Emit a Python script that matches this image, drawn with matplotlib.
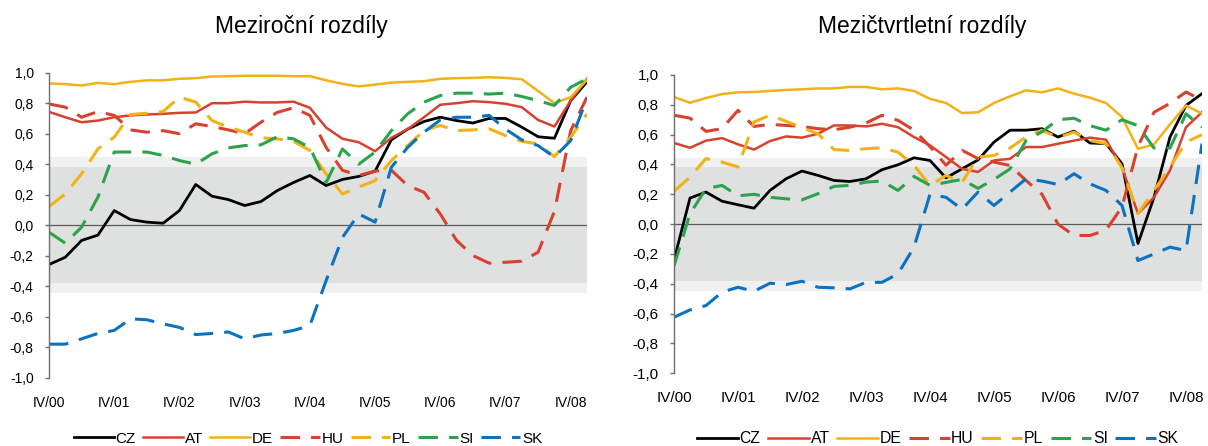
import matplotlib
matplotlib.use("Agg")
import matplotlib.pyplot as plt
import numpy as np
from matplotlib.ticker import FuncFormatter

plt.rcParams["font.family"] = ["Liberation Sans", "DejaVu Sans"]
plt.rcParams["lines.scale_dashes"] = False

QUARTERS = [f"{q}/{y:02d}" for y in range(0, 9) for q in ["I", "II", "III", "IV"]][3:] + ["I/09"]
TICK_LABELS = [f"IV/{y:02d}" for y in range(0, 9)]

COUNTRIES = ["CZ", "AT", "DE", "HU", "PL", "SI", "SK"]

# year-on-year correlations (left panel)
yoy_cz = [-0.258, -0.21, -0.10, -0.065, 0.096, 0.037, 0.02, 0.013, 0.096, 0.267, 0.19, 0.168,
          0.129, 0.155, 0.227, 0.28, 0.326, 0.26, 0.30, 0.32, 0.354, 0.56, 0.63, 0.68, 0.708,
          0.686, 0.67, 0.70, 0.70, 0.643, 0.58, 0.57, 0.817, 0.94]
yoy_at = [0.743, 0.708, 0.675, 0.686, 0.708, 0.72, 0.726, 0.73, 0.737, 0.739, 0.80, 0.80, 0.81,
          0.805, 0.805, 0.81, 0.77, 0.64, 0.567, 0.544, 0.485, 0.573, 0.63, 0.708, 0.79, 0.80,
          0.813, 0.807, 0.796, 0.774, 0.69, 0.647, 0.817, 0.96]
yoy_de = [0.93, 0.925, 0.916, 0.933, 0.925, 0.94, 0.95, 0.95, 0.96, 0.964, 0.975, 0.977, 0.98,
          0.98, 0.98, 0.977, 0.977, 0.95, 0.927, 0.91, 0.922, 0.935, 0.94, 0.944, 0.96, 0.964,
          0.966, 0.97, 0.966, 0.957, 0.88, 0.80, 0.84, 0.953]
yoy_hu = [0.795, 0.774, 0.708, 0.745, 0.72, 0.625, 0.61, 0.62, 0.60, 0.665, 0.647, 0.625, 0.60,
          0.675, 0.74, 0.77, 0.72, 0.51, 0.36, 0.326, 0.355, 0.36, 0.26, 0.216, 0.074, -0.10,
          -0.199, -0.249, -0.243, -0.236, -0.177, 0.09, 0.62, 0.84]
yoy_pl = [0.122, 0.205, 0.337, 0.50, 0.577, 0.726, 0.734, 0.745, 0.84, 0.807, 0.686, 0.643, 0.61,
          0.573, 0.566, 0.55, 0.49, 0.337, 0.205, 0.25, 0.293, 0.424, 0.522, 0.62, 0.654, 0.62,
          0.625, 0.632, 0.588, 0.55, 0.533, 0.45, 0.577, 0.73]
yoy_si = [-0.046, -0.118, -0.013, 0.184, 0.48, 0.48, 0.48, 0.457, 0.424, 0.40, 0.468, 0.507,
          0.522, 0.527, 0.58, 0.566, 0.51, 0.28, 0.50, 0.40, 0.48, 0.62, 0.73, 0.807, 0.85, 0.866,
          0.866, 0.86, 0.866, 0.844, 0.817, 0.785, 0.905, 0.96]
yoy_sk = [-0.78, -0.78, -0.745, -0.71, -0.69, -0.614, -0.62, -0.647, -0.67, -0.717, -0.71, -0.70,
          -0.745, -0.72, -0.71, -0.69, -0.658, -0.363, -0.08, 0.074, 0.02, 0.38, 0.51, 0.61, 0.69,
          0.708, 0.708, 0.72, 0.63, 0.56, 0.522, 0.446, 0.555, 0.83]

# quarter-on-quarter correlations (right panel)
qoq_cz = [-0.24, 0.175, 0.215, 0.154, 0.13, 0.107, 0.226, 0.304, 0.356, 0.327, 0.293, 0.286,
          0.304, 0.365, 0.398, 0.445, 0.427, 0.31, 0.371, 0.43, 0.55, 0.63, 0.63, 0.64, 0.584,
          0.624, 0.544, 0.54, 0.405, -0.13, 0.18, 0.584, 0.796, 0.875]
qoq_at = [0.544, 0.512, 0.56, 0.577, 0.535, 0.50, 0.557, 0.588, 0.58, 0.606, 0.662, 0.662, 0.655,
          0.673, 0.65, 0.584, 0.528, 0.45, 0.371, 0.35, 0.427, 0.438, 0.517, 0.517, 0.539, 0.56,
          0.58, 0.566, 0.38, 0.07, 0.18, 0.36, 0.65, 0.75]
qoq_de = [0.852, 0.814, 0.846, 0.872, 0.884, 0.886, 0.893, 0.90, 0.904, 0.91, 0.91, 0.92, 0.92,
          0.904, 0.91, 0.893, 0.84, 0.812, 0.745, 0.75, 0.812, 0.857, 0.897, 0.884, 0.91, 0.875,
          0.848, 0.812, 0.718, 0.505, 0.535, 0.669, 0.796, 0.74]
qoq_hu = [0.73, 0.711, 0.622, 0.64, 0.763, 0.655, 0.669, 0.662, 0.655, 0.64, 0.633, 0.65, 0.678,
          0.73, 0.696, 0.63, 0.52, 0.395, 0.495, 0.44, 0.416, 0.393, 0.293, 0.20, 0.0, -0.076,
          -0.076, -0.04, 0.115, 0.52, 0.75, 0.81, 0.886, 0.83]
qoq_pl = [0.22, 0.315, 0.44, 0.416, 0.383, 0.685, 0.73, 0.69, 0.647, 0.606, 0.50, 0.494, 0.506,
          0.512, 0.483, 0.394, 0.26, 0.327, 0.28, 0.45, 0.46, 0.51, 0.584, 0.63, 0.58, 0.617,
          0.56, 0.54, 0.38, 0.07, 0.226, 0.383, 0.55, 0.60]
qoq_si = [-0.28, 0.07, 0.237, 0.26, 0.19, 0.2, 0.18, 0.17, 0.163, 0.204, 0.253, 0.26, 0.282,
          0.289, 0.226, 0.32, 0.26, 0.28, 0.30, 0.24, 0.30, 0.37, 0.56, 0.62, 0.70, 0.71, 0.66,
          0.63, 0.70, 0.66, 0.51, 0.51, 0.74, 0.65]
qoq_sk = [-0.624, -0.575, -0.546, -0.456, -0.423, -0.45, -0.396, -0.405, -0.383, -0.423, -0.427,
          -0.434, -0.39, -0.39, -0.333, -0.154, 0.20, 0.18, 0.10, 0.215, 0.125, 0.215, 0.304,
          0.289, 0.266, 0.338, 0.27, 0.226, 0.125, -0.244, -0.20, -0.154, -0.177, 0.54]

BAND_OUTER = 0.445
BAND_INNER = 0.38

STYLES = {
    "CZ": {"color": "#000000", "ls": "-", "lw": 2.0},
    "AT": {"color": "#D9412F", "ls": "-", "lw": 1.8},
    "DE": {"color": "#F2B215", "ls": "-", "lw": 1.8},
    "HU": {"color": "#D9412F", "ls": (0, (14, 8)), "lw": 2.2},
    "PL": {"color": "#F2B215", "ls": (0, (14, 8)), "lw": 2.2},
    "SI": {"color": "#2CA24C", "ls": (0, (14, 8)), "lw": 2.2},
    "SK": {"color": "#0B72C2", "ls": (0, (14, 8)), "lw": 2.2},
}


def draw_panel(fig, rect, series, title, title_xy, fs, leg_fs, legend_xy):
    ax = fig.add_axes(rect)
    x = np.arange(len(QUARTERS))
    ax.axhspan(-BAND_OUTER, BAND_OUTER, color="#F0F0F0", lw=0, zorder=0)
    ax.axhspan(-BAND_INNER, BAND_INNER, color="#DFE0E0", lw=0, zorder=0)
    ax.axhline(0, color="#5A5A5A", lw=0.9, zorder=1)

    for name, vals in zip(COUNTRIES, series):
        sty = STYLES[name]
        ax.plot(x, vals, color=sty["color"], linestyle=sty["ls"], lw=sty["lw"],
                label=name, zorder=2, solid_joinstyle="round")

    ax.set_xlim(0, len(QUARTERS) - 1)
    ax.set_ylim(-1.0, 1.0)
    ax.set_yticks(np.arange(-1.0, 1.01, 0.2))
    ax.yaxis.set_major_formatter(FuncFormatter(lambda v, _: f"{v:.1f}".replace(".", ",").replace("-0,0", "0,0")))
    ax.set_xticks(x[::4])
    ax.set_xticklabels(TICK_LABELS)
    for s in ["top", "right", "bottom"]:
        ax.spines[s].set_visible(False)
    ax.spines["left"].set_color("#6E6E6E")
    ax.spines["left"].set_linewidth(1.0)
    ax.tick_params(axis="y", length=3, width=1.0, color="#6E6E6E", pad=8, labelsize=fs)
    ax.tick_params(axis="x", length=0, pad=13, labelsize=fs)

    fig.text(title_xy[0], title_xy[1], title, ha="center", va="center", fontsize=16.5)
    ax.legend(loc="center", bbox_to_anchor=legend_xy, ncol=7, frameon=False,
              fontsize=leg_fs, handlelength=2.6, handletextpad=0.1, columnspacing=0.48,
              borderaxespad=0)
    return ax


fig = plt.figure(figsize=(12.08, 4.46), dpi=100)

draw_panel(fig, [49 / 1208, 1 - 377.7 / 446, 538 / 1208, 305 / 446],
           [yoy_cz, yoy_at, yoy_de, yoy_hu, yoy_pl, yoy_si, yoy_sk],
           "Meziroční rozdíly", (301 / 1208, 1 - 26 / 446), 10, 11.0, (0.482, -0.2))
draw_panel(fig, [674 / 1208, 1 - 373.3 / 446, 528 / 1208, 298.3 / 446],
           [qoq_cz, qoq_at, qoq_de, qoq_hu, qoq_pl, qoq_si, qoq_sk],
           "Mezičtvrtletní rozdíly", (922 / 1208, 1 - 26 / 446), 11, 11.3, (0.5, -0.22))

fig.savefig("out.png", dpi=100)
